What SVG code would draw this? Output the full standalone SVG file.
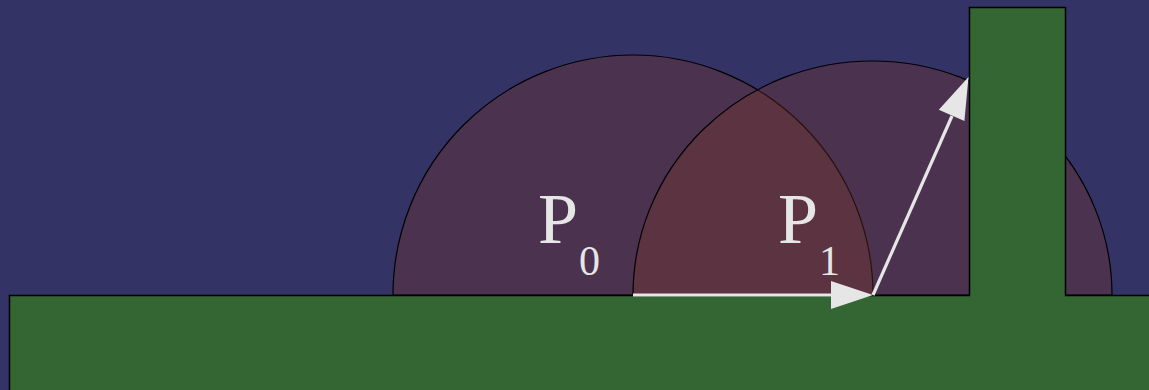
<svg xmlns="http://www.w3.org/2000/svg" width="1149" height="390" viewBox="0 0 1149 390">
<style>
.zone{fill:#7b3324;fill-opacity:0.33;stroke:#000;stroke-width:1.2}
.ground{fill:#336633;stroke:#000;stroke-width:1.5}
.line{stroke:#e6e6e6;stroke-width:3.2;fill:none}
.head{fill:#e6e6e6}
.lbl{font-family:"Liberation Serif","Times New Roman",serif;fill:#e6e6e6}
</style>
<rect width="1149" height="390" fill="#333366"/>
<g id="zone-p0"><path class="zone" d="M393,295 A240,240 0 0 1 873,295 Z"/></g>
<g id="zone-p1"><path class="zone" d="M633,295 A239.5,234 0 0 1 1112,295 Z"/></g>
<g id="ground"><path class="ground" d="M9.5,295.5 H969.5 V7.5 H1065.5 V295.5 H1151 V392 H9.5 Z"/></g>
<g id="connectors">
<line class="line" x1="633" y1="295" x2="833" y2="295"/>
<polygon class="head" points="873,295 831,281 831,309"/>
<line class="line" x1="873" y1="295" x2="952" y2="116"/>
<polygon class="head" points="968.5,77 964.4,121.1 938.8,109.8"/>
</g>
<g id="label-p0">
<text class="lbl" x="538" y="243" font-size="72">P</text>
<text class="lbl" x="579" y="275" font-size="42">0</text>
</g>
<g id="label-p1">
<text class="lbl" x="778" y="243" font-size="72">P</text>
<text class="lbl" x="819" y="275" font-size="42">1</text>
</g>
</svg>
